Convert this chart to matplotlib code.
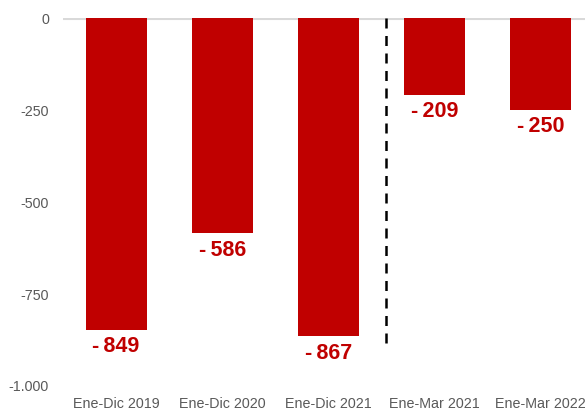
import matplotlib
matplotlib.use("Agg")
import matplotlib.pyplot as plt
from matplotlib import font_manager

categories = ["Ene-Dic 2019", "Ene-Dic 2020", "Ene-Dic 2021", "Ene-Mar 2021", "Ene-Mar 2022"]
values = [-849, -586, -867, -209, -250]
ytick_vals = [0, -250, -500, -750, -1000]
ytick_labels = ["0", "-250", "-500", "-750", "-1.000"]

plt.rcParams['font.family'] = ['Liberation Sans', 'DejaVu Sans']
names = {f.name for f in font_manager.fontManager.ttflist}
label_family = ['Liberation Sans Narrow', 'Liberation Sans'] if 'Liberation Sans Narrow' in names else ['Liberation Sans']

fig = plt.figure(figsize=(5.85, 4.1), dpi=100)
ax = fig.add_axes([63/585, 1-386/410, 1-63/585, (386-19)/410])

red = "#C00000"
x = list(range(len(categories)))
ax.bar(x, values, width=0.575, color=red, zorder=2)

for xi, v in zip(x, values):
    ax.annotate("-\u2009" + str(abs(v)), (xi, v), xytext=(0, -4), textcoords="offset points",
                ha="center", va="top", fontsize=15.5, fontweight="bold", color=red,
                family=label_family)

ax.axhline(0, color="#D9D9D9", lw=2.2, zorder=1)
ax.plot([2.547, 2.547], [0, -890], color="black", lw=1.8, ls=(0, (4, 3)), zorder=3)

ax.set_xlim(-0.5, 4.42)
ax.set_ylim(-1000, 0)
ax.set_yticks(ytick_vals)
ax.set_yticklabels(ytick_labels)
ax.set_xticks(x)
ax.set_xticklabels(categories)
ax.tick_params(axis="both", length=0, labelsize=10.3, labelcolor="#595959")
ax.tick_params(axis="y", pad=10)
ax.tick_params(axis="x", pad=8)
for s in ax.spines.values():
    s.set_visible(False)

fig.savefig("out.png", dpi=100)
